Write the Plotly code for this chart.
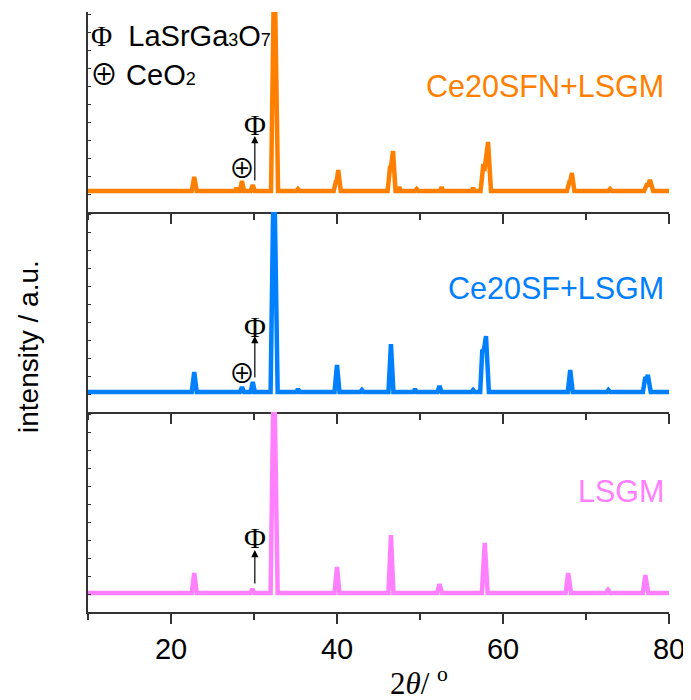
import plotly.graph_objects as go
from plotly.subplots import make_subplots

# ---- data (2theta in degrees, intensity in a.u.) ----
x_sfn = [10, 22.5, 22.8, 23.1, 27.7, 27.9, 28.1, 28.3, 28.55, 28.8, 29.6, 29.85, 30.1,
         32.05, 32.45, 32.9, 35.1, 35.3, 35.5, 39.6, 39.85, 39.95, 40.15, 40.45,
         46.1, 46.4, 46.5, 46.75, 47.05, 47.3, 47.5, 47.7, 49.4, 49.6, 49.8,
         52.4, 52.6, 52.8, 56.2, 56.4, 56.6, 57.3, 57.6, 57.8, 58.2, 58.55,
         67.7, 68.0, 68.1, 68.3, 68.6, 72.7, 72.9, 73.1, 77.0, 77.3, 77.45, 77.7, 78.1, 80]
y_sfn = [21, 21, 35, 21, 21, 24, 21, 21, 31, 21, 21, 27, 21,
         21, 260, 21, 21, 23, 21, 21, 30, 30, 42, 21,
         21, 46, 45, 61, 21, 21, 25, 21, 21, 23, 21,
         21, 25, 21, 21, 24, 21, 21, 45, 44, 70, 21,
         21, 30, 30, 39, 21, 21, 23, 21, 21, 27, 27, 32, 21, 21]

x_sf = [10, 22.5, 22.8, 23.1, 28.3, 28.55, 28.8, 29.6, 29.85, 30.1,
        32.0, 32.4, 32.85, 35.1, 35.3, 35.5, 39.7, 40.0, 40.3, 42.8, 43.0, 43.2,
        46.2, 46.5, 46.8, 49.2, 49.4, 49.6, 52.1, 52.35, 52.6, 56.2, 56.4, 56.6,
        57.25, 57.5, 57.7, 57.95, 58.3, 67.8, 68.1, 68.4, 72.5, 72.7, 72.9,
        76.85, 77.15, 77.3, 77.45, 77.8, 80]
y_sf = [20, 20, 40, 20, 20, 25, 20, 20, 30, 20,
        20, 260, 20, 20, 23, 20, 20, 47, 20, 20, 22, 20,
        20, 68, 20, 20, 23, 20, 20, 26, 20, 20, 22, 20,
        20, 61, 62, 76, 20, 20, 42, 20, 20, 22, 20,
        20, 35, 33, 37, 20, 20]

x_lsgm = [10, 22.5, 22.8, 23.1, 29.55, 29.8, 30.05, 32.0, 32.4, 32.85,
          39.7, 40.0, 40.3, 46.2, 46.5, 46.8, 52.05, 52.35, 52.65, 57.45, 57.8, 58.15,
          67.55, 67.85, 68.2, 72.4, 72.65, 72.9, 76.85, 77.15, 77.5, 80]
y_lsgm = [19, 19, 39, 19, 19, 23, 19, 19, 260, 19,
          19, 45, 19, 19, 77, 19, 19, 28, 19, 19, 69, 19,
          19, 39, 19, 19, 22, 19, 19, 37, 19, 19]

series_names = ["Ce20SFN+LSGM", "Ce20SF+LSGM", "LSGM"]
series_colors = ["#FF8000", "#0080FF", "#FF80FF"]
series_x = [x_sfn, x_sf, x_lsgm]
series_y = [y_sfn, y_sf, y_lsgm]

x_ticks = [20, 40, 60, 80]

# phase markers
phi_x = 30.1
phi_base = [30, 33, 27]
phi_tip = [76, 76, 62]
phi_label_y = [88, 86, 75]
ceo2_x = [28.6, 28.6]
ceo2_y = [46, 41]

fig = make_subplots(rows=3, cols=1, shared_xaxes=True, vertical_spacing=0)

for i in range(3):
    fig.add_trace(go.Scatter(x=series_x[i], y=series_y[i], mode="lines",
                             line=dict(color=series_colors[i], width=4.5),
                             showlegend=False, hoverinfo="skip"), row=i + 1, col=1)

axis_col = "#333333"
for i in range(3):
    fig.update_xaxes(range=[10, 80], tickmode="array", tickvals=x_ticks,
                     ticks="outside", ticklen=10, tickwidth=1.5, tickcolor=axis_col,
                     showline=True, linecolor=axis_col, linewidth=1.5,
                     showgrid=False, zeroline=False,
                     minor=dict(ticks="outside", tickvals=[10, 30, 50, 70], ticklen=6,
                                tickwidth=1.5, tickcolor=axis_col, showgrid=False),
                     showticklabels=(i == 2),
                     tickfont=dict(family="Liberation Sans, Arial", size=29, color="black"),
                     row=i + 1, col=1)
    fig.update_yaxes(range=[0, 200], showline=True, linecolor=axis_col, linewidth=1.5,
                     ticks="inside", ticklen=3, tickwidth=1, tickcolor=axis_col,
                     tickmode="linear", tick0=0, dtick=18,
                     showticklabels=False, showgrid=False, zeroline=False,
                     row=i + 1, col=1)

# plot area in window pixels: x 88..669, y 12..612 (page has an 8px body margin)
def px(xp):
    return (xp - 88) / 581

def py(yp):
    return (612 - yp) / 600

annotations = []
label_y = [85.5, 288, 491]
for i in range(3):
    annotations.append(dict(xref="paper", yref="paper", x=px(666), y=py(label_y[i]),
                            xanchor="right", yanchor="middle", showarrow=False,
                            text=series_names[i],
                            font=dict(family="Liberation Sans, Arial", size=30.5,
                                      color=series_colors[i])))

axrefs = [("x", "y"), ("x2", "y2"), ("x3", "y3")]
for i in range(3):
    xr, yr = axrefs[i]
    annotations.append(dict(xref=xr, yref=yr, x=phi_x, y=phi_tip[i], ax=phi_x, ay=phi_base[i],
                            axref=xr, ayref=yr, showarrow=True, arrowhead=2,
                            arrowsize=1.2, arrowwidth=1.2, arrowcolor="black", text=""))
    annotations.append(dict(xref=xr, yref=yr, x=phi_x, y=phi_label_y[i], showarrow=False,
                            text="Φ", xanchor="center", yanchor="middle",
                            font=dict(family="Liberation Serif, DejaVu Serif", size=30,
                                      color="black")))
for i in range(2):
    xr, yr = axrefs[i]
    annotations.append(dict(xref=xr, yref=yr, x=ceo2_x[i], y=ceo2_y[i], showarrow=False,
                            text="⊕", xanchor="center", yanchor="middle",
                            font=dict(family="Noto Sans CJK JP, DejaVu Sans", size=26,
                                      color="black")))

# legend-like key at top-left
annotations.append(dict(xref="paper", yref="paper", x=px(89), y=py(36),
                        xanchor="left", yanchor="middle", showarrow=False,
                        text="<span style='font-family:Liberation Serif'>Φ</span>  LaSrGa"
                             "<span style='font-size:18px'>3</span>O"
                             "<span style='font-size:18px'>7</span>",
                        font=dict(family="Liberation Sans, Arial", size=29, color="black")))
annotations.append(dict(xref="paper", yref="paper", x=px(88), y=py(73),
                        xanchor="left", yanchor="middle", showarrow=False,
                        text="<span style='font-family:Noto Sans CJK JP;font-size:28px'>⊕</span> CeO"
                             "<span style='font-size:18px'>2</span>",
                        font=dict(family="Liberation Sans, Arial", size=29, color="black")))

# axis titles
annotations.append(dict(xref="paper", yref="paper", x=px(419), y=py(681),
                        xanchor="center", yanchor="middle", showarrow=False,
                        text="2<i>θ</i>/ <sup>o</sup>",
                        font=dict(family="Liberation Serif, Times New Roman", size=31,
                                  color="black")))
annotations.append(dict(xref="paper", yref="paper", x=px(28), y=py(347),
                        xanchor="center", yanchor="middle", showarrow=False, textangle=-90,
                        text="intensity / a.u.",
                        font=dict(family="Liberation Sans, Arial", size=28, color="black")))

fig.update_layout(width=683, height=692, margin=dict(l=80, r=22, t=4, b=88),
                  plot_bgcolor="white", paper_bgcolor="white",
                  annotations=annotations, showlegend=False)

fig.write_html("out.html")
